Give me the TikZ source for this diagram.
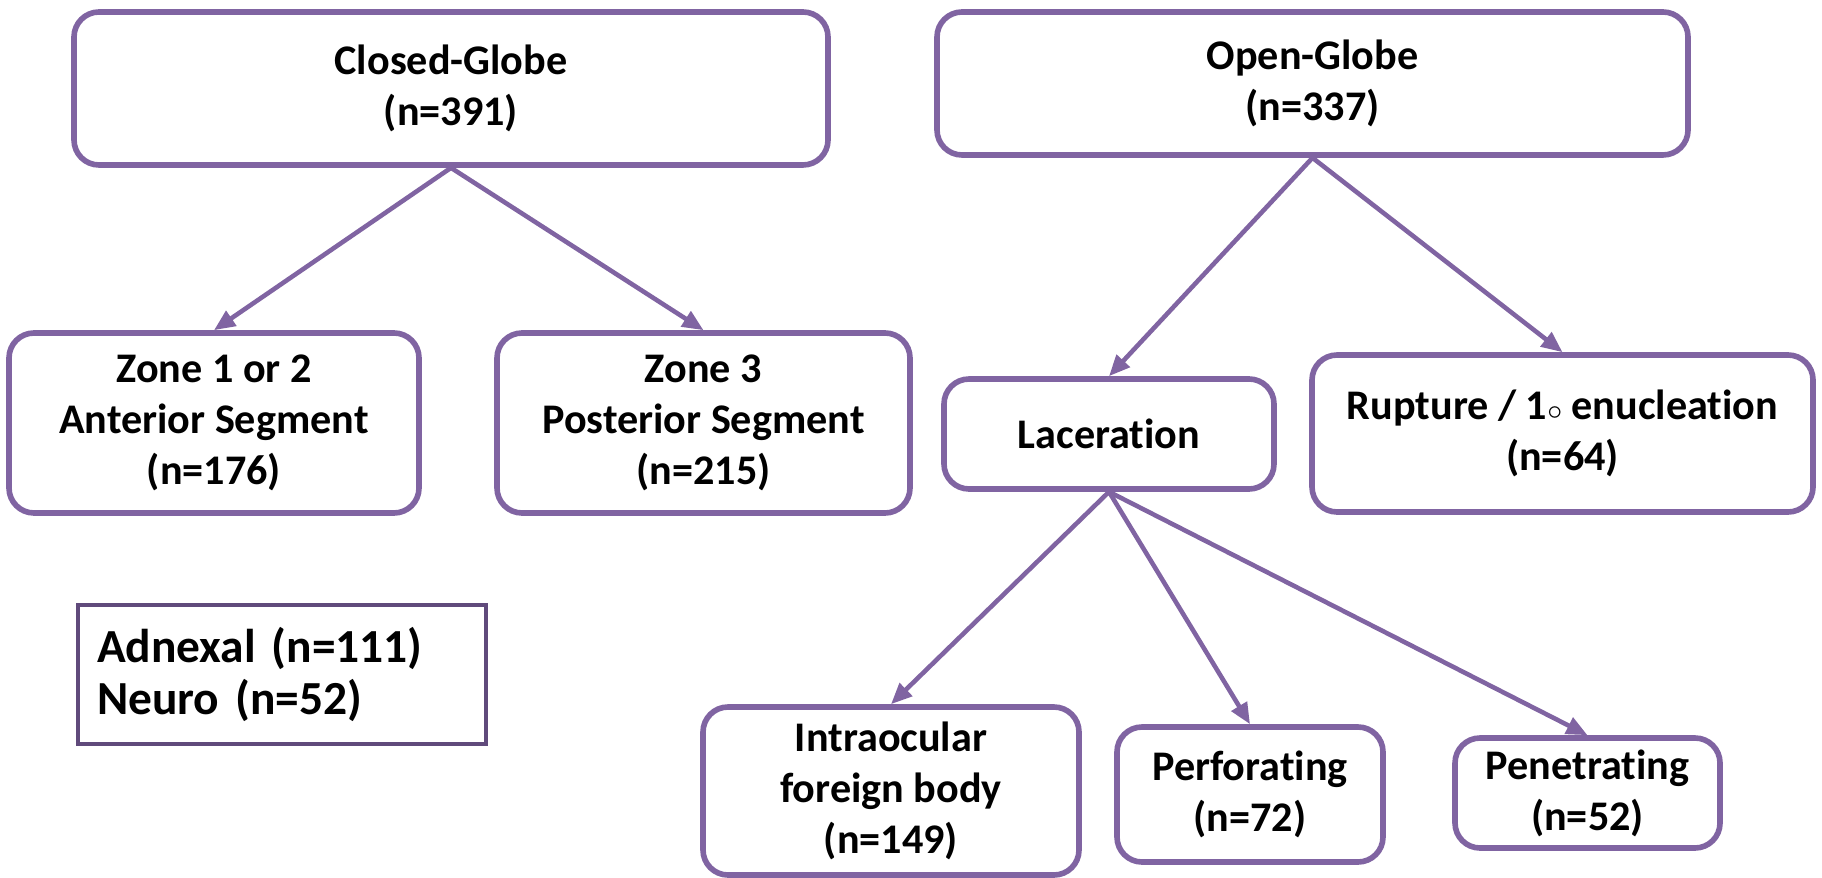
\documentclass[tikz,border=0pt]{standalone}
\usepackage{fontspec}
\setmainfont[Ligatures=NoCommon]{Carlito}
\usepackage{tikz}
\usetikzlibrary{positioning, arrows.meta}

\definecolor{ogpurple}{HTML}{8064A2}
\definecolor{ogdark}{HTML}{604A7B}

\begin{document}
\begin{tikzpicture}[
  gbox/.style={draw=ogpurple, line width=1.6pt, rounded corners=0.25cm, fill=white,
               align=center, font=\fontsize{12}{14.5}\selectfont\bfseries, inner sep=2pt},
  nbox/.style={draw=ogdark, line width=1.2pt, align=left, text width=3.7cm,
               inner xsep=0.19cm, font=\fontsize{13.5}{15}\selectfont\bfseries},
  link/.style={ogpurple, line width=1.3pt, -{Triangle[length=6pt, width=5pt]}},
]
  \useasboundingbox (0,0) rectangle (18.22,-8.78);

  % Globe types
  \node[gbox, minimum width=7.54cm, minimum height=1.53cm] (closed) at (4.51,-0.885) {Closed-Globe\\(n=391)};
  \node[gbox, minimum width=7.51cm, minimum height=1.43cm] (open) at (13.125,-0.835) {Open-Globe\\(n=337)};

  % Closed-globe zones
  \node[gbox, minimum width=4.10cm, minimum height=1.80cm] (zone12) at (2.14,-4.23) {Zone 1 or 2\\Anterior Segment\\(n=176)};
  \node[gbox, minimum width=4.13cm, minimum height=1.80cm] (zone3) at (7.035,-4.23) {Zone 3\\Posterior Segment\\(n=215)};
  \foreach \s in {zone12, zone3} { \draw[link] (closed.south) -- (\s.north); }

  % Open-globe types
  \node[gbox, minimum width=3.30cm, minimum height=1.10cm] (lac) at (11.09,-4.34) {Laceration};
  \node[gbox, minimum width=5.01cm, minimum height=1.57cm] (rup) at (15.625,-4.335) {Rupture / 1$\scriptstyle\circ$ enucleation\\(n=64)};
  \foreach \s in {lac, rup} { \draw[link] (open.south) -- (\s.north); }

  % Laceration subtypes
  \node[gbox, minimum width=3.76cm, minimum height=1.68cm] (iofb) at (8.91,-7.91) {Intraocular\\foreign body\\(n=149)};
  \node[gbox, minimum width=2.66cm, minimum height=1.35cm] (perf) at (12.50,-7.945) {Perforating\\(n=72)};
  \node[gbox, minimum width=2.65cm, minimum height=1.10cm] (pen) at (15.875,-7.93) {Penetrating\\(n=52)};
  \foreach \s in {iofb, perf, pen} { \draw[link] (lac.south) -- (\s.north); }

  % Other injuries
  \node[nbox, minimum height=1.39cm] (adnex) at (2.82,-6.745) {Adnexal (n=111)\\Neuro (n=52)};
\end{tikzpicture}
\end{document}
